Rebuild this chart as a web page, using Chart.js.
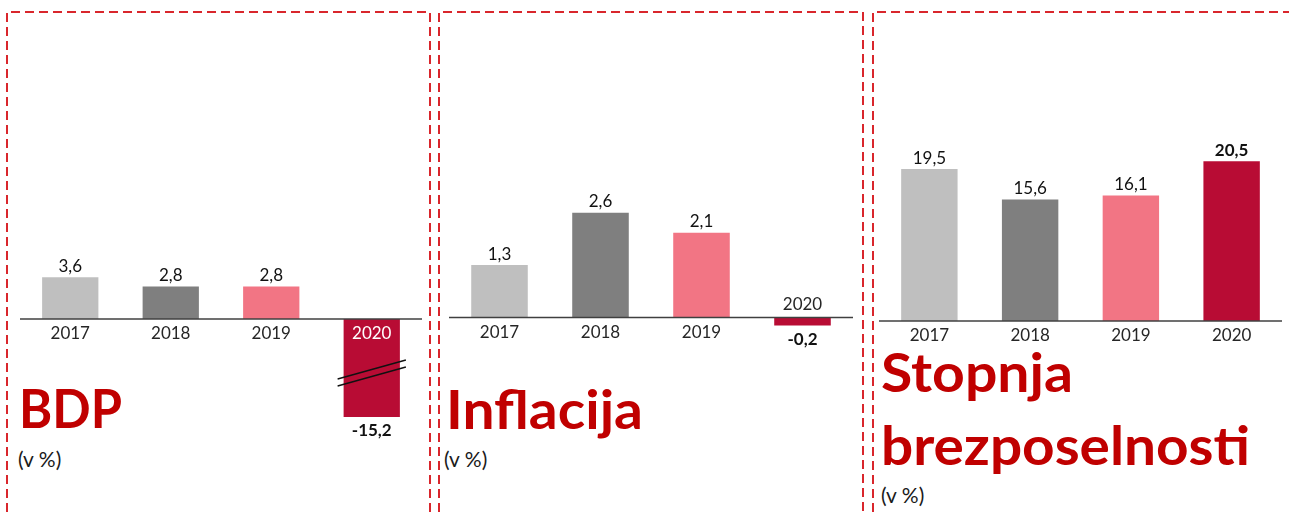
<!DOCTYPE html>
<html>
<head>
<meta charset="utf-8">
<script src="https://cdn.jsdelivr.net/npm/chart.js@4.4.1/dist/chart.umd.min.js"></script>
<style>
  html, body { margin: 0; padding: 0; background: #fff; }
  #wrap { position: relative; width: 1289px; height: 512px; overflow: hidden; font-family: Lato, "Noto Sans", sans-serif; }
  #wrap svg { position: absolute; left: 0; top: 0; }
  #wrap canvas { position: absolute; top: 0; }
</style>
</head>
<body>
<div id="wrap">
  <svg width="1289" height="512">
    <g fill="none" stroke="#D9262C" stroke-width="2" stroke-dasharray="9 5">
      <path d="M7,512 V12 H430 V512" />
      <path d="M439,512 V12 H863 V512" />
      <path d="M873,512 V12 H1289" />
    </g>
    <g font-family="Lato, 'Noto Sans', sans-serif" font-weight="bold" font-size="54" fill="#C00000">
      <text x="19" y="428" textLength="103" lengthAdjust="spacingAndGlyphs">BDP</text>
      <text x="446" y="429" textLength="197" lengthAdjust="spacingAndGlyphs">Inflacija</text>
      <text x="881" y="392" textLength="192" lengthAdjust="spacingAndGlyphs">Stopnja</text>
      <text x="881" y="465" textLength="369" lengthAdjust="spacingAndGlyphs">brezposelnosti</text>
    </g>
    <g font-family="Lato, 'Noto Sans', sans-serif" font-size="21" fill="#1a1a1a">
      <text x="18" y="467">(v %)</text>
      <text x="444" y="467">(v %)</text>
      <text x="881" y="503">(v %)</text>
    </g>
  </svg>
  <canvas id="bdp"></canvas>
  <canvas id="infl"></canvas>
  <canvas id="brezp"></canvas>
</div>
<script>
// podatki
const leta = ['2017', '2018', '2019', '2020'];
const bdp = [3.6, 2.8, 2.8, -15.2];
const inflacija = [1.3, 2.6, 2.1, -0.2];
const brezposelnost = [19.5, 15.6, 16.1, 20.5];
const barve = ['#BFBFBF', '#7F7F7F', '#F27584', '#B80C34'];

const FONT = 'Lato, "Noto Sans", sans-serif';
const fmt = v => v.toFixed(1).replace('.', ',');

// oznake, os in prelom stolpca
const oznake = {
    id: 'oznake',
    afterDatasetsDraw(chart) {
        const ctx = chart.ctx;
        const area = chart.chartArea;
        const x = chart.scales.x, y = chart.scales.y;
        const y0 = y.getPixelForValue(0);
        const meta = chart.getDatasetMeta(0);
        const data = chart.data.datasets[0].data;

        ctx.save();
        // os x
        ctx.strokeStyle = '#404040';
        ctx.lineWidth = 1.5;
        ctx.beginPath();
        ctx.moveTo(area.left, y0);
        ctx.lineTo(area.right, y0);
        ctx.stroke();

        ctx.textAlign = 'center';
        ctx.textBaseline = 'middle';
        data.forEach((v, i) => {
            const bar = meta.data[i];
            const cx = x.getPixelForValue(i);
            const zadnji = i === data.length - 1;
            const vrh = Math.max(Math.min(y.getPixelForValue(v), area.bottom), area.top);
            ctx.font = (zadnji ? 'bold ' : '') + '17px ' + FONT;
            ctx.fillStyle = '#111';
            if (v >= 0) {
                ctx.fillText(fmt(v), cx, vrh - 11);
            } else {
                ctx.fillText(fmt(v), cx, vrh + 14);
            }

            // letnica
            ctx.font = '17px ' + FONT;
            if (v >= 0) {
                ctx.fillStyle = '#262626';
                ctx.fillText(leta[i], cx, y0 + 15);
            } else if (vrh - y0 > 30) {
                ctx.fillStyle = '#fff';
                ctx.fillText(leta[i], cx, y0 + 15);
            } else {
                ctx.fillStyle = '#262626';
                ctx.fillText(leta[i], cx, y0 - 13);
            }

            // prelom, ce stolpec presega skalo
            if (v < y.min) {
                const sred = (y0 + area.bottom) / 2 + 2;
                const l = bar.x - bar.width / 2 - 6, r = bar.x + bar.width / 2 + 6;
                ctx.strokeStyle = '#111';
                ctx.lineWidth = 1.3;
                [0, 7].forEach(d => {
                    ctx.beginPath();
                    ctx.moveTo(l, sred + 9 + d);
                    ctx.lineTo(r, sred - 10 + d);
                    ctx.stroke();
                });
            }
        });
        ctx.restore();
    }
};

function narisi(id, vrednosti, os) {
    // os: levo, desno (x osi), nicla (y), pxNaEnoto, spodaj (dno obmocja)
    const el = document.getElementById(id);
    const w = os.desno - os.levo;
    el.width = w;
    el.height = 512;
    el.style.left = os.levo + 'px';
    const zgoraj = 30;
    const max = (os.nicla - zgoraj) / os.pxNaEnoto;
    const min = -(os.spodaj - os.nicla) / os.pxNaEnoto;

    return new Chart(el, {
        type: 'bar',
        data: {
            labels: leta,
            datasets: [{
                data: vrednosti,
                backgroundColor: barve,
                borderWidth: 0,
                categoryPercentage: 1,
                barPercentage: 0.56
            }]
        },
        options: {
            responsive: false,
            animation: false,
            layout: { padding: { top: zgoraj, bottom: 512 - os.spodaj, left: 0, right: 0 } },
            plugins: { legend: { display: false }, tooltip: { enabled: false } },
            scales: {
                x: { display: false },
                y: { display: false, min: min, max: max }
            }
        },
        plugins: [oznake]
    });
}

narisi('bdp', bdp, { levo: 20, desno: 422, nicla: 319, pxNaEnoto: 11.6, spodaj: 417 });
narisi('infl', inflacija, { levo: 449, desno: 853, nicla: 317.5, pxNaEnoto: 40.3, spodaj: 420 });
narisi('brezp', brezposelnost, { levo: 879, desno: 1282, nicla: 321, pxNaEnoto: 7.79, spodaj: 420 });
</script>
</body>
</html>
